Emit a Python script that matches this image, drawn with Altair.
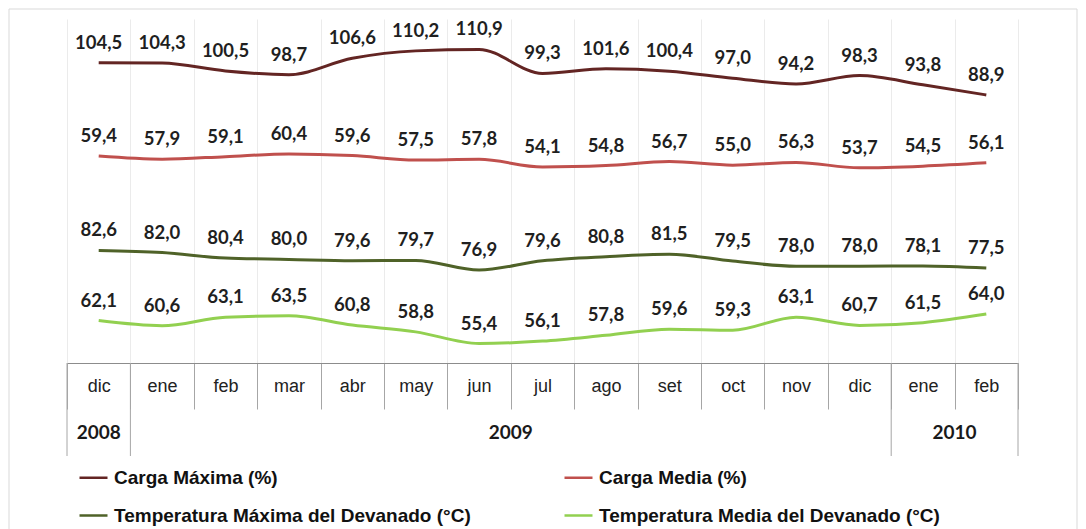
import altair as alt
import pandas as pd

months = ["dic", "ene", "feb", "mar", "abr", "may", "jun", "jul", "ago", "set", "oct", "nov", "dic", "ene", "feb"]
years = [2008] + [2009] * 12 + [2010] * 2
carga_max = [104.5, 104.3, 100.5, 98.7, 106.6, 110.2, 110.9, 99.3, 101.6, 100.4, 97.0, 94.2, 98.3, 93.8, 88.9]
carga_media = [59.4, 57.9, 59.1, 60.4, 59.6, 57.5, 57.8, 54.1, 54.8, 56.7, 55.0, 56.3, 53.7, 54.5, 56.1]
temp_max = [82.6, 82.0, 80.4, 80.0, 79.6, 79.7, 76.9, 79.6, 80.8, 81.5, 79.5, 78.0, 78.0, 78.1, 77.5]
temp_media = [62.1, 60.6, 63.1, 63.5, 60.8, 58.8, 55.4, 56.1, 57.8, 59.6, 59.3, 63.1, 60.7, 61.5, 64.0]

series_names = ["Carga Máxima (%)", "Carga Media (%)",
                "Temperatura Máxima del Devanado (°C)", "Temperatura Media del Devanado (°C)"]
series_colors = ["#632523", "#c0504d", "#4f6228", "#92d050"]

keys = [f"{m} {y}" for m, y in zip(months, years)]

def frame(vals, name):
    return pd.DataFrame({
        "key": keys,
        "serie": name,
        "valor": vals,
        "etiqueta": [f"{v:.1f}".replace(".", ",") for v in vals],
    })

carga_df = pd.concat([frame(carga_max, series_names[0]), frame(carga_media, series_names[1])])
temp_df = pd.concat([frame(temp_max, series_names[2]), frame(temp_media, series_names[3])])

W, H = 951, 344

def X(band=0.5):
    return alt.X(
        "key:N",
        sort=keys,
        bandPosition=band,
        scale=alt.Scale(domain=keys, paddingInner=0, paddingOuter=0),
        axis=alt.Axis(
            title=None,
            labelExpr="split(datum.label, ' ')[0]",
            labelAngle=0,
            labelFont="Liberation Sans",
            labelFontSize=18,
            labelColor="#222222",
            labelBaseline="middle",
            labelPadding=-23,
            tickBand="extent",
            tickSize=46,
            tickColor="#a6a6a6",
            domainColor="#8c8c8c",
            grid=True,
            gridColor="#ebebeb",
        ),
    )

color = alt.Color(
    "serie:N",
    scale=alt.Scale(domain=series_names, range=series_colors),
    legend=alt.Legend(
        title=None,
        orient="none",
        direction="horizontal",
        legendX=11,
        legendY=443,
        columns=2,
        columnPadding=88,
        rowPadding=12,
        symbolType="stroke",
        symbolSize=784,
        symbolStrokeWidth=2.5,
        labelFont="Liberation Sans",
        labelFontSize=19,
        labelFontWeight="bold",
        labelColor="#111111",
        labelOffset=5,
        labelLimit=500,
    ),
)

def layer_for(df, domain):
    ys = alt.Y("valor:Q", scale=alt.Scale(domain=domain, nice=False, zero=False), axis=None)
    base = alt.Chart(df)
    lines = base.mark_line(strokeWidth=3, interpolate="monotone").encode(x=X(), y=ys, color=color)
    texts = base.mark_text(font="Lato", fontSize=18.5, fontWeight="bold", color="#1f1f1f",
                           baseline="middle", dy=-20).encode(x=X(), y=ys, text="etiqueta:N")
    return alt.layer(lines, texts)

carga_layer = layer_for(carga_df, [-40.6, 125.6])
temp_layer = layer_for(temp_df, [49.7, 150.3])

# Year row
year_sep_left = pd.DataFrame({"key": ["dic 2008", "ene 2009", "ene 2010"]})
year_sep_right = pd.DataFrame({"key": ["feb 2010"]})
rule_kw = dict(color="#a6a6a6", strokeWidth=1)
sep1 = alt.Chart(year_sep_left).mark_rule(**rule_kw).encode(
    x=X(0), y=alt.value(H), y2=alt.value(H + 93))
sep2 = alt.Chart(year_sep_right).mark_rule(**rule_kw).encode(
    x=X(1), y=alt.value(H), y2=alt.value(H + 93))

year_center = pd.DataFrame({"key": ["dic 2008"], "anio": ["2008"]})
year_edge = pd.DataFrame({"key": ["jul 2009", "feb 2010"], "anio": ["2009", "2010"]})
ytext_kw = dict(font="Lato", fontSize=19, fontWeight="bold", color="#1a1a1a", baseline="middle")
yt1 = alt.Chart(year_center).mark_text(**ytext_kw).encode(x=X(0.5), y=alt.value(H + 70), text="anio:N")
yt2 = alt.Chart(year_edge).mark_text(**ytext_kw).encode(x=X(0), y=alt.value(H + 70), text="anio:N")

frame_rect = alt.Chart(pd.DataFrame({"k": [0]})).mark_rect(
    fill=None, stroke="#d9d9d9", strokeWidth=1
).encode(x=alt.value(-58), x2=alt.value(W + 59), y=alt.value(-10), y2=alt.value(H + 172))

chart = alt.layer(
    frame_rect, sep1, sep2, yt1, yt2, carga_layer, temp_layer
).resolve_scale(y="independent").properties(
    width=W, height=H, padding={"left": 0, "top": 0, "right": 0, "bottom": 0}
).configure_view(stroke=None)

chart.save("out.html", embed_options={"renderer": "svg", "actions": False})
